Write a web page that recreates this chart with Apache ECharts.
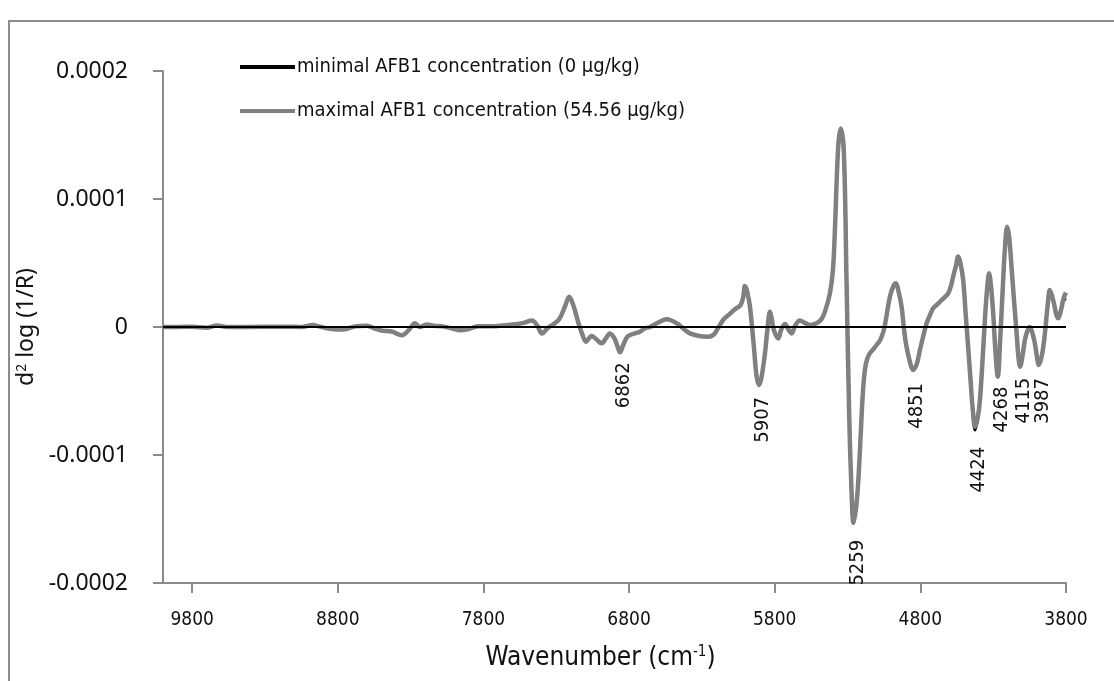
<!DOCTYPE html>
<html>
<head>
<meta charset="utf-8">
<script src="https://cdn.jsdelivr.net/npm/echarts@6/dist/echarts.min.js"></script>
<style>
  html, body { margin: 0; padding: 0; background: #fff; }
  #chart { width: 1114px; height: 681px; }
</style>
</head>
<body>
<div id="chart"></div>
<script>
// ---- data ----
const seriesNames = ['minimal AFB1 concentration (0 µg/kg)', 'maximal AFB1 concentration (54.56 µg/kg)'];
const xTickValues = [9800, 8800, 7800, 6800, 5800, 4800, 3800];
const xTickLabels = ['9800', '8800', '7800', '6800', '5800', '4800', '3800'];
const yTickValues = [-0.0002, -0.0001, 0, 0.0001, 0.0002];
const yTickLabels = ['-0.0002', '-0.0001', '0', '0.0001', '0.0002'];
const peakWavenumbers = [6862, 5907, 5259, 4851, 4424, 4268, 4115, 3987];
const peakLabels = ['6862', '5907', '5259', '4851', '4424', '4268', '4115', '3987'];

const wavenumbers = [
  10000, 9900, 9800, 9700, 9629, 9560, 9400, 9200, 9050, 8970, 8930, 8874, 8800, 8740, 8680, 8600,
  8540, 8490, 8430, 8359, 8310, 8270, 8236, 8190, 8140, 8080, 8020, 7960, 7900, 7830, 7750, 7687,
  7600, 7530, 7467, 7430, 7398, 7360, 7323, 7280, 7240, 7211, 7180, 7150, 7120, 7096, 7057, 7030,
  6989, 6960, 6931, 6900, 6880, 6862, 6840, 6815, 6794, 6760, 6726, 6690, 6657, 6600, 6542, 6474,
  6420, 6382, 6320, 6257, 6222, 6190, 6154, 6110, 6073, 6034, 6015, 6005, 5990, 5970, 5943, 5925,
  5907, 5890, 5867, 5850, 5833, 5820, 5806, 5776, 5755, 5730, 5700, 5684, 5660, 5627, 5590, 5558,
  5513, 5480, 5455, 5421, 5400, 5387, 5364, 5346, 5325, 5307, 5289, 5272, 5259, 5240, 5225, 5210,
  5195, 5181, 5165, 5147, 5120, 5101, 5080, 5066, 5050, 5037, 5009, 4985, 4968, 4950, 4929, 4910,
  4895, 4870, 4851, 4825, 4803, 4780, 4757, 4735, 4712, 4680, 4654, 4630, 4609, 4590, 4575, 4555,
  4540, 4525, 4506, 4490, 4472, 4455, 4442, 4424, 4405, 4391, 4375, 4357, 4340, 4328, 4315, 4300,
  4285, 4268, 4252, 4236, 4220, 4204, 4190, 4174, 4155, 4139, 4127, 4115, 4098, 4082, 4065, 4048,
  4030, 4014, 4000, 3987, 3965, 3945, 3925, 3911, 3895, 3883, 3865, 3853, 3835, 3815, 3800
];

// maximal AFB1 concentration (grey)
const maxConc = [
  0, 0, 0.02e-5, -0.05e-5, 0.12e-5, 0, 0, 0.02e-5, 0, 0.15e-5, 0.05e-5, -0.1e-5, -0.2e-5, -0.15e-5, 0.05e-5, 0.1e-5,
  -0.15e-5, -0.3e-5, -0.35e-5, -0.65e-5, -0.2e-5, 0.3e-5, 0, 0.2e-5, 0.1e-5, 0.05e-5, -0.1e-5, -0.25e-5, -0.15e-5, 0.05e-5, 0.05e-5, 0.1e-5,
  0.2e-5, 0.3e-5, 0.5e-5, 0.1e-5, -0.5e-5, -0.1e-5, 0.2e-5, 0.6e-5, 1.6e-5, 2.37e-5, 1.6e-5, 0.4e-5, -0.6e-5, -1.15e-5, -0.7e-5, -0.9e-5,
  -1.27e-5, -0.9e-5, -0.5e-5, -0.9e-5, -1.5e-5, -1.98e-5, -1.4e-5, -0.8e-5, -0.63e-5, -0.5e-5, -0.37e-5, -0.1e-5, 0, 0.35e-5, 0.6e-5, 0.3e-5,
  -0.2e-5, -0.5e-5, -0.7e-5, -0.76e-5, -0.63e-5, -0.1e-5, 0.55e-5, 1.0e-5, 1.38e-5, 1.72e-5, 2.4e-5, 3.2e-5, 2.8e-5, 1.59e-5, -1.54e-5, -3.8e-5,
  -4.53e-5, -3.9e-5, -2.06e-5, -0.2e-5, 1.2e-5, 0.6e-5, -0.23e-5, -0.89e-5, -0.2e-5, 0.23e-5, -0.3e-5, -0.5e-5, 0.1e-5, 0.5e-5, 0.3e-5, 0.16e-5,
  0.29e-5, 0.6e-5, 1.2e-5, 2.63e-5, 4.5e-5, 7.5e-5, 14.1e-5, 15.5e-5, 13.6e-5, 3.67e-5, -6.7e-5, -13e-5, -15.3e-5, -14.0e-5, -11.8e-5, -8.5e-5,
  -5.2e-5, -3.36e-5, -2.5e-5, -2.06e-5, -1.7e-5, -1.41e-5, -1.1e-5, -0.76e-5, -0.2e-5, 0.55e-5, 2.37e-5, 3.2e-5, 3.41e-5, 2.8e-5, 1.59e-5, -0.4e-5,
  -1.54e-5, -2.8e-5, -3.36e-5, -2.9e-5, -1.8e-5, -0.7e-5, 0.29e-5, 0.9e-5, 1.46e-5, 1.8e-5, 2.1e-5, 2.35e-5, 2.63e-5, 3.2e-5, 3.93e-5, 4.8e-5,
  5.5e-5, 5.0e-5, 3.67e-5, 1.2e-5, -1.54e-5, -4.2e-5, -6.2e-5, -7.8e-5, -7.0e-5, -5.7e-5, -3.0e-5, 0.55e-5, 3.2e-5, 4.2e-5, 3.2e-5, 1.07e-5,
  -1.8e-5, -3.88e-5, -1.0e-5, 2.63e-5, 6.0e-5, 7.84e-5, 7.0e-5, 4.71e-5, 1.8e-5, -0.5e-5, -2.3e-5, -3.1e-5, -2.2e-5, -1.0e-5, -0.3e-5, 0,
  -0.5e-5, -1.27e-5, -2.3e-5, -2.97e-5, -2.2e-5, -0.5e-5, 1.8e-5, 2.9e-5, 2.4e-5, 1.85e-5, 0.9e-5, 0.68e-5, 1.3e-5, 2.3e-5, 2.7e-5
];

// minimal AFB1 concentration (black, almost entirely hidden under the grey line)
const minConc = [
  0, 0, 0.02e-5, -0.05e-5, 0.12e-5, 0, 0, 0.02e-5, 0, 0.15e-5, 0.05e-5, -0.1e-5, -0.2e-5, -0.15e-5, 0.05e-5, 0.1e-5,
  -0.15e-5, -0.3e-5, -0.35e-5, -0.65e-5, -0.2e-5, 0.3e-5, 0, 0.2e-5, 0.1e-5, 0.05e-5, -0.1e-5, -0.25e-5, -0.15e-5, 0.05e-5, 0.05e-5, 0.1e-5,
  0.2e-5, 0.3e-5, 0.5e-5, 0.1e-5, -0.5e-5, -0.1e-5, 0.2e-5, 0.6e-5, 1.6e-5, 2.35e-5, 1.6e-5, 0.4e-5, -0.6e-5, -1.15e-5, -0.7e-5, -0.9e-5,
  -1.27e-5, -0.9e-5, -0.5e-5, -0.9e-5, -1.5e-5, -1.98e-5, -1.4e-5, -0.8e-5, -0.63e-5, -0.5e-5, -0.37e-5, -0.1e-5, 0, 0.35e-5, 0.6e-5, 0.3e-5,
  -0.2e-5, -0.5e-5, -0.7e-5, -0.76e-5, -0.63e-5, -0.1e-5, 0.55e-5, 1.0e-5, 1.38e-5, 1.72e-5, 2.4e-5, 3.2e-5, 2.8e-5, 1.59e-5, -1.54e-5, -3.8e-5,
  -4.5e-5, -3.9e-5, -2.06e-5, -0.2e-5, 1.2e-5, 0.6e-5, -0.23e-5, -0.89e-5, -0.2e-5, 0.23e-5, -0.3e-5, -0.5e-5, 0.1e-5, 0.5e-5, 0.3e-5, 0.16e-5,
  0.29e-5, 0.6e-5, 1.2e-5, 2.63e-5, 4.5e-5, 7.5e-5, 14.1e-5, 15.5e-5, 13.6e-5, 3.67e-5, -6.7e-5, -13e-5, -15.3e-5, -14.0e-5, -11.8e-5, -8.5e-5,
  -5.2e-5, -3.36e-5, -2.5e-5, -2.06e-5, -1.7e-5, -1.41e-5, -1.1e-5, -0.76e-5, -0.2e-5, 0.55e-5, 2.37e-5, 3.2e-5, 3.41e-5, 2.8e-5, 1.59e-5, -0.4e-5,
  -1.54e-5, -2.8e-5, -3.36e-5, -2.9e-5, -1.8e-5, -0.7e-5, 0.29e-5, 0.9e-5, 1.46e-5, 1.8e-5, 2.1e-5, 2.35e-5, 2.63e-5, 3.2e-5, 3.93e-5, 4.8e-5,
  5.5e-5, 5.0e-5, 3.67e-5, 1.2e-5, -1.54e-5, -4.2e-5, -6.3e-5, -8.05e-5, -7.1e-5, -5.7e-5, -3.0e-5, 0.55e-5, 3.2e-5, 4.2e-5, 3.2e-5, 1.07e-5,
  -1.8e-5, -3.88e-5, -1.0e-5, 2.63e-5, 6.0e-5, 7.84e-5, 7.0e-5, 4.71e-5, 1.8e-5, -0.5e-5, -2.3e-5, -3.1e-5, -2.2e-5, -1.0e-5, -0.3e-5, 0,
  -0.5e-5, -1.27e-5, -2.3e-5, -2.97e-5, -2.2e-5, -0.5e-5, 1.8e-5, 2.9e-5, 2.4e-5, 1.85e-5, 0.9e-5, 0.68e-5, 1.3e-5, 2.2e-5, 2.1e-5
];

// ---- styling / layout ----
const NARROW = "'Liberation Sans Narrow', 'DejaVu Sans Condensed', 'Arial Narrow', sans-serif";
const WIDE = "'Noto Sans', 'Open Sans', sans-serif";
const AXIS_GREY = '#8a8a8a';
const labelGap = [10, 12, 17, 13, 20, 10, 11, 13];

const chart = echarts.init(document.getElementById('chart'), null, { renderer: 'canvas' });

function pairs(xs, ys) { return xs.map((x, i) => [x, ys[i]]); }

const option = {
  animation: false,
  backgroundColor: '#fff',
  grid: { left: 163, right: 48, top: 71, bottom: 98, containLabel: false },
  legend: {
    orient: 'vertical',
    left: 235,
    top: 50,
    padding: 5,
    data: seriesNames,
    icon: 'rect',
    itemWidth: 55,
    itemHeight: 4,
    itemGap: 20,
    selectedMode: false,
    textStyle: { fontFamily: NARROW, fontSize: 20, color: '#111', lineHeight: 24, padding: [0, 0, 0, -3] }
  },
  xAxis: {
    type: 'value',
    min: 3800,
    max: 10000,
    inverse: true,
    splitLine: { show: false },
    axisLine: { show: true, onZero: false, lineStyle: { color: AXIS_GREY, width: 2 } },
    axisTick: { show: true, length: 10, customValues: xTickValues, lineStyle: { color: AXIS_GREY, width: 2 } },
    axisLabel: {
      customValues: xTickValues, margin: 28, fontFamily: NARROW, fontSize: 19, color: '#111',
      formatter: function (v) {
        const i = xTickValues.indexOf(Math.round(v));
        return i >= 0 ? xTickLabels[i] : '';
      }
    },
    name: 'Wavenumber (cm{sup|-1})',
    nameLocation: 'middle',
    nameGap: 62,
    nameTextStyle: {
      fontFamily: NARROW, fontSize: 26, color: '#111', padding: [0, 28, 0, 0],
      rich: { sup: { fontFamily: NARROW, fontSize: 15, verticalAlign: 'top', color: '#111' } }
    }
  },
  yAxis: {
    type: 'value',
    min: -0.0002,
    max: 0.0002,
    interval: 0.0001,
    splitLine: { show: false },
    axisLine: { show: true, lineStyle: { color: AXIS_GREY, width: 2 } },
    axisTick: { show: true, length: 10, lineStyle: { color: AXIS_GREY, width: 2 } },
    axisLabel: {
      margin: 35, fontFamily: WIDE, fontSize: 23, color: '#111',
      formatter: function (v) {
        const i = yTickValues.findIndex(t => Math.abs(t - v) < 1e-9);
        return i >= 0 ? yTickLabels[i] : '';
      }
    },
    name: 'd{sup|2} log (1/R)',
    nameLocation: 'middle',
    nameGap: 112,
    nameTextStyle: {
      fontFamily: WIDE, fontSize: 23, color: '#111',
      rich: { sup: { fontFamily: WIDE, fontSize: 14, verticalAlign: 'top', color: '#111' } }
    }
  },
  series: [
    {
      name: seriesNames[0],
      type: 'line',
      data: pairs(wavenumbers, minConc),
      showSymbol: false,
      smooth: 0.35,
      color: '#000',
      lineStyle: { color: '#000', width: 3 },
      z: 2
    },
    {
      name: seriesNames[1],
      type: 'line',
      data: pairs(wavenumbers, maxConc),
      showSymbol: false,
      smooth: 0.35,
      color: '#808080',
      lineStyle: { color: '#808080', width: 4.5 },
      z: 3
    },
    {
      name: 'zero',
      type: 'line',
      data: [],
      z: 10,
      markLine: {
        silent: true,
        symbol: 'none',
        label: { show: false },
        lineStyle: { color: '#000', width: 2, type: 'solid' },
        data: [{ yAxis: 0 }]
      }
    }
  ]
};

chart.setOption(option);

// Peak annotations placed through the chart's own coordinate conversion
const graphics = [{
  type: 'rect', silent: true, z: -1,
  shape: { x: 9, y: 21, width: 1300, height: 900 },
  style: { fill: 'none', stroke: '#8c8c8c', lineWidth: 2 }
}];
peakWavenumbers.forEach((wn, i) => {
  const idx = wavenumbers.indexOf(wn);
  const pt = chart.convertToPixel({ gridIndex: 0 }, [wn, maxConc[idx]]);
  graphics.push({
    type: 'text',
    x: pt[0] + 4,
    y: pt[1] + labelGap[i],
    rotation: Math.PI / 2,
    silent: true,
    z: 20,
    style: {
      text: peakLabels[i],
      font: '20px ' + NARROW,
      fill: '#111',
      align: 'right', textAlign: 'right',
      verticalAlign: 'middle', textVerticalAlign: 'middle'
    }
  });
});
chart.setOption({ graphic: graphics });
</script>
</body>
</html>
